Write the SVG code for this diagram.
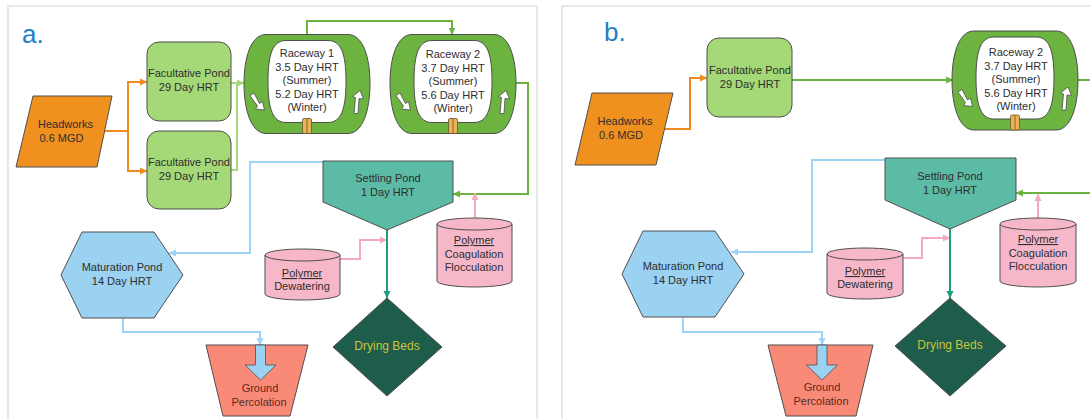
<svg xmlns="http://www.w3.org/2000/svg" width="1090" height="419" viewBox="0 0 1090 419">
  <style>
    text { font-family: "Liberation Sans", Arial, sans-serif; font-size: 11px; fill: #2e2e2e; text-anchor: middle; }
    .panel-label { font-size: 26px; fill: #1c7fc6; text-anchor: start; }
    .frame { fill: none; stroke: #e2e2e2; stroke-width: 1.5; }
    .edge { stroke: #4f4f4f; stroke-width: 1; }
    .headworks { fill: #f0901f; }
    .facultative { fill: #a5d977; }
    .settling { fill: #5cbba4; }
    .maturation { fill: #9bd2f2; }
    .ground { fill: #f98a77; }
    .polymer { fill: #f6b7c9; }
    .drying { fill: #1e5c4b; }
    .drying-text { fill: #c9c53c; font-size: 12px; }
    .ground-text { fill: #5a2a22; }
    .u { text-decoration: underline; }
    .conn { fill: none; stroke-width: 2; }
    .c-orange { stroke: #f08c1f; }
    .c-lgreen { stroke: #a5d977; }
    .c-green { stroke: #6cb33f; }
    .c-blue { stroke: #9dd3f5; }
    .c-pink { stroke: #f5a9c1; }
    .c-teal { stroke: #1f9e80; }
  </style>
  <defs>
    <marker id="ah-orange" markerUnits="userSpaceOnUse" markerWidth="8" markerHeight="8" refX="7" refY="4" orient="auto"><path d="M0,0.5 L7.5,4 L0,7.5 Z" fill="#f08c1f"/></marker>
    <marker id="ah-lgreen" markerUnits="userSpaceOnUse" markerWidth="8" markerHeight="8" refX="7" refY="4" orient="auto"><path d="M0,0.5 L7.5,4 L0,7.5 Z" fill="#a5d977"/></marker>
    <marker id="ah-green" markerUnits="userSpaceOnUse" markerWidth="8" markerHeight="8" refX="7" refY="4" orient="auto"><path d="M0,0.5 L7.5,4 L0,7.5 Z" fill="#6cb33f"/></marker>
    <marker id="ah-blue" markerUnits="userSpaceOnUse" markerWidth="8" markerHeight="8" refX="7" refY="4" orient="auto"><path d="M0,0.5 L7.5,4 L0,7.5 Z" fill="#9dd3f5"/></marker>
    <marker id="ah-pink" markerUnits="userSpaceOnUse" markerWidth="8" markerHeight="8" refX="7" refY="4" orient="auto"><path d="M0,0.5 L7.5,4 L0,7.5 Z" fill="#f5a9c1"/></marker>
    <marker id="ah-teal" markerUnits="userSpaceOnUse" markerWidth="8" markerHeight="8" refX="7" refY="4" orient="auto"><path d="M0,0.5 L7.5,4 L0,7.5 Z" fill="#1f9e80"/></marker>

    <!-- raceway pond body, centred on (0,0) -->
    <g id="raceway-body">
      <path d="M-41,-49 H41 C56,-49 63,-26 63,0 C63,26 56,50 41,50 H-41 C-56,50 -63,26 -63,0 C-63,-26 -56,-49 -41,-49 Z" fill="#6cb33f" stroke="#4d4d4d" stroke-width="1"/>
      <path d="M-21,-43 H21 C34,-43 39,-30 39,-2 C39,26 34,39 21,39 H-21 C-34,39 -39,26 -39,-2 C-39,-30 -34,-43 -21,-43 Z" fill="#ffffff" stroke="#4d4d4d" stroke-width="1"/>
      <!-- flow direction arrows -->
      <path d="M-57,12 L-53,9.5 L-47.5,20 L-44.5,18 L-42.5,26.5 L-51.5,25.5 L-49.5,22.5 Z" fill="#ffffff" stroke="#4d4d4d" stroke-width="0.8"/>
      <path d="M47,30 L51,30 L52,15 L56.5,15.5 L53,7 L45.5,13 L48.5,14 Z" fill="#ffffff" stroke="#4d4d4d" stroke-width="0.8"/>
      <!-- paddle wheel -->
      <rect x="-4.5" y="35" width="9" height="15" rx="1.5" fill="#e9b356" stroke="#6b5527" stroke-width="0.8"/>
      <line x1="0" y1="35.5" x2="0" y2="49.5" stroke="#6b5527" stroke-width="0.8"/>
    </g>
  </defs>

  <rect width="1090" height="419" fill="#ffffff"/>

  <!-- panel frames and labels -->
  <g id="frames">
    <path class="frame" d="M8,419 V6 H537 V419"/>
    <path class="frame" d="M562,419 V6 H1090"/>
    <text class="panel-label" x="22" y="43">a.</text>
    <text class="panel-label" x="604" y="41">b.</text>
  </g>

  <!-- connectors -->
  <g id="connectors">
    <!-- panel a -->
    <path class="conn c-orange" d="M104,131 H128 V82 H147" marker-end="url(#ah-orange)"/>
    <path class="conn c-orange" d="M128,131 V171 H147" marker-end="url(#ah-orange)"/>
    <path class="conn c-lgreen" d="M231,83 H237 M231,170 H237 V83 H244" marker-end="url(#ah-lgreen)"/>
    <path class="conn c-green" d="M307,34.5 V21 H452 V34.5" marker-end="url(#ah-green)"/>
    <path class="conn c-green" d="M516,83 H528 V194 H453" marker-end="url(#ah-green)"/>
    <path class="conn c-blue" d="M323,162 H250 V253 H169" marker-end="url(#ah-blue)"/>
    <path class="conn c-blue" d="M123,318 V332 H260 V345" marker-end="url(#ah-blue)"/>
    <path class="conn c-pink" d="M340,259 H360 V240 H387" marker-end="url(#ah-pink)"/>
    <path class="conn c-pink" d="M475,218 V193" marker-end="url(#ah-pink)"/>
    <path class="conn c-teal" d="M387,230 V298" marker-end="url(#ah-teal)"/>
    <!-- panel b -->
    <path class="conn c-orange" d="M664,129 H690 V78 H707" marker-end="url(#ah-orange)"/>
    <path class="conn c-green" d="M792,80 H953" marker-end="url(#ah-green)"/>
    <path class="conn c-green" d="M1078,80 H1090"/>
    <path class="conn c-green" d="M1090,193 H1016" marker-end="url(#ah-green)"/>
    <path class="conn c-blue" d="M885,160 H812 V252 H731" marker-end="url(#ah-blue)"/>
    <path class="conn c-blue" d="M683,318 V332 H822 V345" marker-end="url(#ah-blue)"/>
    <path class="conn c-pink" d="M903,258 H922 V238 H950" marker-end="url(#ah-pink)"/>
    <path class="conn c-pink" d="M1038,218 V194" marker-end="url(#ah-pink)"/>
    <path class="conn c-teal" d="M950,229 V298" marker-end="url(#ah-teal)"/>
  </g>

  <!-- ===== panel a ===== -->
  <g id="a-headworks">
    <polygon class="headworks edge" points="33,96 112,96 97,167 16,167"/>
    <text x="65.5" y="128">Headworks</text>
    <text x="61.5" y="142">0.6 MGD</text>
  </g>
  <g id="a-facultative-1">
    <rect class="facultative edge" x="147" y="42" width="84" height="79" rx="12"/>
    <text x="189" y="77">Facultative Pond</text>
    <text x="189" y="91">29 Day HRT</text>
  </g>
  <g id="a-facultative-2">
    <rect class="facultative edge" x="147" y="131" width="84" height="78" rx="12"/>
    <text x="189" y="166">Facultative Pond</text>
    <text x="189" y="180">29 Day HRT</text>
  </g>
  <g id="a-raceway-1">
    <use href="#raceway-body" transform="translate(307,83.5)"/>
    <text x="307" y="57">Raceway 1</text>
    <text x="307" y="70.5">3.5 Day HRT</text>
    <text x="307" y="84">(Summer)</text>
    <text x="307" y="97.5">5.2 Day HRT</text>
    <text x="307" y="111">(Winter)</text>
  </g>
  <g id="a-raceway-2">
    <use href="#raceway-body" transform="translate(453,83.5)"/>
    <text x="453" y="58">Raceway 2</text>
    <text x="453" y="71.5">3.7 Day HRT</text>
    <text x="453" y="85">(Summer)</text>
    <text x="453" y="98.5">5.6 Day HRT</text>
    <text x="453" y="112">(Winter)</text>
  </g>
  <g id="a-settling">
    <polygon class="settling edge" points="323,161 453,161 453,202 387,230 323,202"/>
    <text x="388" y="182">Settling Pond</text>
    <text x="388" y="196">1 Day HRT</text>
  </g>
  <g id="a-maturation">
    <polygon class="maturation edge" points="61,275 82,232 154,232 183,275 154,318 82,318"/>
    <text x="122" y="271">Maturation Pond</text>
    <text x="122" y="285">14 Day HRT</text>
  </g>
  <g id="a-ground">
    <polygon class="ground edge" points="206,345 308,345 290,416 223,416"/>
    <polygon class="maturation" stroke="#4f4f4f" stroke-width="0.8" points="255.5,345 265.5,345 265.5,365 276,365 260.5,380 245,365 255.5,365"/>
    <text class="ground-text" x="260" y="392">Ground</text>
    <text class="ground-text" x="259" y="406">Percolation</text>
  </g>
  <g id="a-polymer-dewatering">
    <path class="polymer edge" d="M265,255 A37.5,6 0 0 1 340,255 V294 A37.5,6 0 0 1 265,294 Z"/>
    <path fill="none" class="edge" d="M265,255 A37.5,6 0 0 0 340,255"/>
    <text class="u" x="302" y="277">Polymer</text>
    <text x="302" y="290">Dewatering</text>
  </g>
  <g id="a-polymer-coagulation">
    <path class="polymer edge" d="M437,224 A37.5,6 0 0 1 512,224 V281 A37.5,6 0 0 1 437,281 Z"/>
    <path fill="none" class="edge" d="M437,224 A37.5,6 0 0 0 512,224"/>
    <text class="u" x="474" y="244">Polymer</text>
    <text x="474" y="257.5">Coagulation</text>
    <text x="474" y="271">Flocculation</text>
  </g>
  <g id="a-drying-beds">
    <polygon class="drying edge" points="387,298 442,347 387,396 333,347"/>
    <text class="drying-text" x="387" y="350">Drying Beds</text>
  </g>

  <!-- ===== panel b ===== -->
  <g id="b-headworks">
    <polygon class="headworks edge" points="592,93 673,93 656,165 575,165"/>
    <text x="625" y="125">Headworks</text>
    <text x="621" y="139">0.6 MGD</text>
  </g>
  <g id="b-facultative">
    <rect class="facultative edge" x="707" y="38" width="85" height="79" rx="12"/>
    <text x="750" y="74">Facultative Pond</text>
    <text x="750" y="87.5">29 Day HRT</text>
  </g>
  <g id="b-raceway-2">
    <use href="#raceway-body" transform="translate(1015,80)"/>
    <text x="1016" y="56">Raceway 2</text>
    <text x="1016" y="69.5">3.7 Day HRT</text>
    <text x="1016" y="83">(Summer)</text>
    <text x="1016" y="96.5">5.6 Day HRT</text>
    <text x="1016" y="110">(Winter)</text>
  </g>
  <g id="b-settling">
    <polygon class="settling edge" points="885,158 1016,158 1016,200 950,229 885,200"/>
    <text x="950" y="180">Settling Pond</text>
    <text x="950" y="194">1 Day HRT</text>
  </g>
  <g id="b-maturation">
    <polygon class="maturation edge" points="622,274 643,231 715,231 744,274 715,317 643,317"/>
    <text x="683" y="270">Maturation Pond</text>
    <text x="683" y="284">14 Day HRT</text>
  </g>
  <g id="b-ground">
    <polygon class="ground edge" points="768,345 873,345 856,416 786,416"/>
    <polygon class="maturation" stroke="#4f4f4f" stroke-width="0.8" points="817,345 827,345 827,365 837.5,365 822,380 806.5,365 817,365"/>
    <text class="ground-text" x="822" y="391">Ground</text>
    <text class="ground-text" x="821" y="405">Percolation</text>
  </g>
  <g id="b-polymer-dewatering">
    <path class="polymer edge" d="M827,254 A38,6 0 0 1 903,254 V293 A38,6 0 0 1 827,293 Z"/>
    <path fill="none" class="edge" d="M827,254 A38,6 0 0 0 903,254"/>
    <text class="u" x="865" y="275">Polymer</text>
    <text x="865" y="288">Dewatering</text>
  </g>
  <g id="b-polymer-coagulation">
    <path class="polymer edge" d="M1000,224 A38,6 0 0 1 1076,224 V281 A38,6 0 0 1 1000,281 Z"/>
    <path fill="none" class="edge" d="M1000,224 A38,6 0 0 0 1076,224"/>
    <text class="u" x="1038" y="243">Polymer</text>
    <text x="1038" y="256.5">Coagulation</text>
    <text x="1038" y="270">Flocculation</text>
  </g>
  <g id="b-drying-beds">
    <polygon class="drying edge" points="950,298 1006,346 950,396 895,346"/>
    <text class="drying-text" x="950" y="349">Drying Beds</text>
  </g>
</svg>
